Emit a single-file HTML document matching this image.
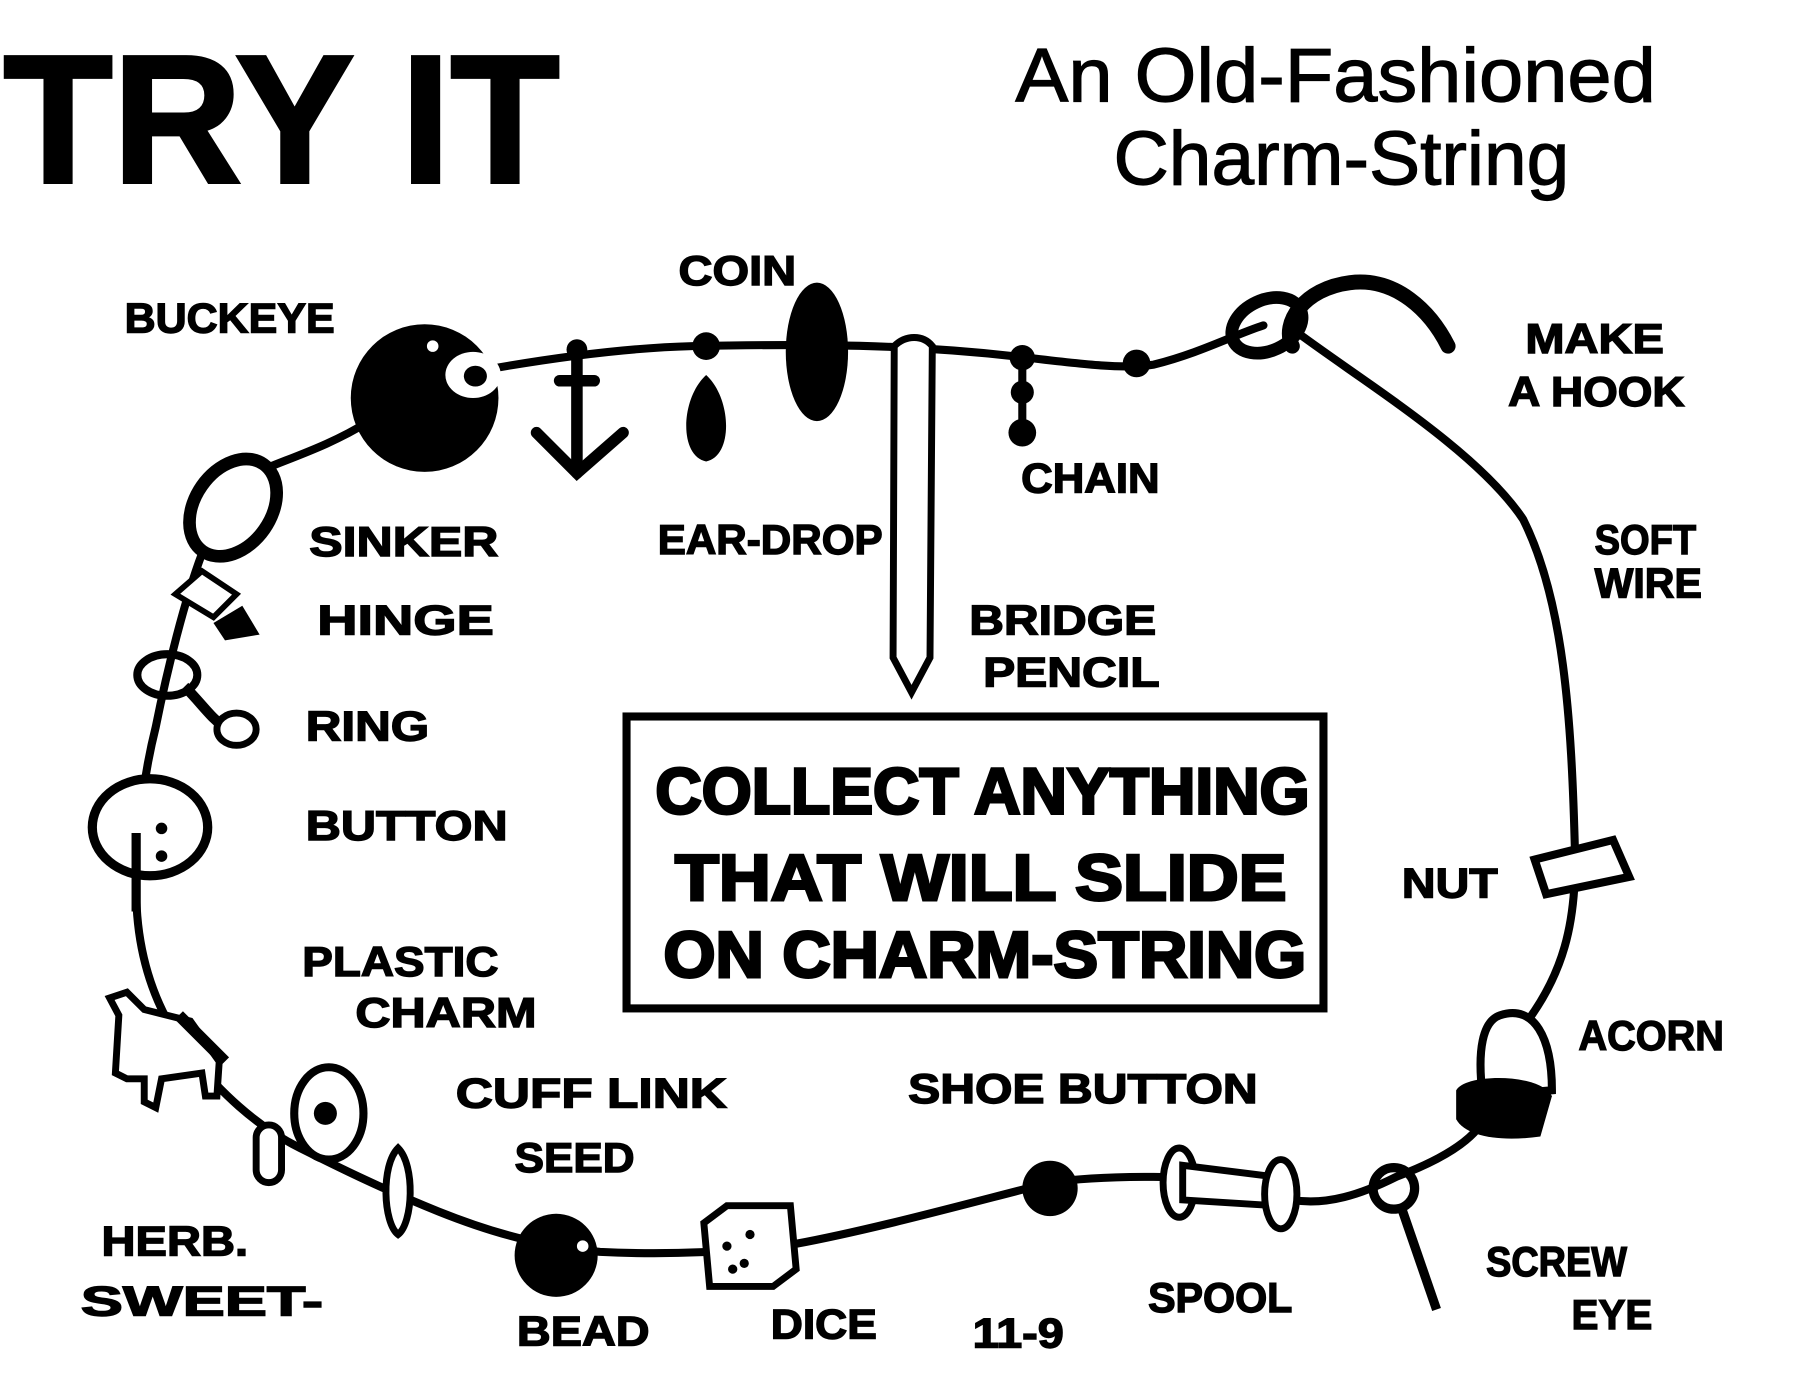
<!DOCTYPE html>
<html><head><meta charset="utf-8"><style>
html,body{margin:0;padding:0;background:#fff;}
svg{display:block;}
text{font-family:"Liberation Sans",sans-serif;font-weight:bold;fill:#000;}
</style></head><body>
<svg width="1800" height="1373" viewBox="0 0 1560 1190" preserveAspectRatio="none" xmlns="http://www.w3.org/2000/svg">
<rect width="1560" height="1190" fill="#fff"/>
<!-- Titles -->
<text x="3" y="158" font-size="158" textLength="482" lengthAdjust="spacingAndGlyphs" stroke="#000" stroke-width="3">TRY IT</text>
<text x="880" y="88" font-size="66" style="font-weight:normal" textLength="555" lengthAdjust="spacingAndGlyphs" stroke="#000" stroke-width="1">An Old-Fashioned</text>
<text x="965" y="160" font-size="66" style="font-weight:normal" textLength="395" lengthAdjust="spacingAndGlyphs" stroke="#000" stroke-width="1">Charm-String</text>

<!-- string / wire -->
<g fill="none" stroke="#000" stroke-linecap="round" stroke-linejoin="round">
<path d="M370,330 C430,318 520,302 600,300 C700,298 790,298 890,310 C940,316 975,320 1000,316 C1040,306 1070,290 1095,282" stroke-width="7"/>
<path d="M1120,285 C1180,330 1280,390 1320,450 C1355,520 1362,620 1365,740 C1366,800 1355,845 1320,890" stroke-width="7"/>
<path d="M1290,960 C1285,985 1250,1005 1210,1020 C1180,1035 1150,1045 1120,1040 C1080,1030 1040,1020 1000,1020 C960,1020 930,1022 910,1025 C850,1040 760,1065 690,1078 C640,1085 580,1088 520,1085 C470,1080 430,1070 380,1050 C330,1030 290,1010 260,995 C220,975 190,945 165,915 C130,870 118,820 118,770 C118,720 125,670 135,630 C145,580 160,520 175,480 C185,455 195,430 210,415 C240,400 280,390 320,365" stroke-width="7"/>
<!-- hook -->
<ellipse cx="1098" cy="282" rx="32" ry="22" stroke-width="11" transform="rotate(-25 1098 282)"/>
<path d="M1120,300 C1110,280 1130,250 1170,245 C1210,240 1240,270 1255,300" stroke-width="13"/>
</g>

<!-- Buckeye -->
<circle cx="368" cy="345" r="64" fill="#000"/>
<ellipse cx="410" cy="325" rx="24" ry="20" fill="#fff"/>
<ellipse cx="412" cy="326" rx="10" ry="9" fill="#000"/>
<circle cx="375" cy="300" r="5" fill="#fff"/>
<!-- Anchor -->
<g stroke="#000" stroke-width="10" fill="none" stroke-linecap="round">
<line x1="500" y1="300" x2="500" y2="410"/>
<path d="M465,375 L500,410 L540,375"/>
<line x1="485" y1="330" x2="515" y2="330"/>
</g>
<circle cx="500" cy="303" r="9" fill="#000"/>
<!-- Ear-drop -->
<circle cx="612" cy="300" r="12" fill="#000"/>
<path d="M612,312 L612,325 C590,345 588,395 612,400 C636,395 634,345 612,325Z" fill="#000"/>
<!-- Coin -->
<ellipse cx="708" cy="305" rx="27" ry="60" fill="#000"/>
<!-- Bridge pencil -->
<path d="M775,300 C785,290 800,290 808,300 L806,570 L790,600 L774,570Z" fill="#fff" stroke="#000" stroke-width="6"/>
<!-- Chain -->
<circle cx="886" cy="310" r="11" fill="#000"/>
<circle cx="886" cy="340" r="10" fill="#000"/>
<circle cx="886" cy="375" r="12" fill="#000"/>
<line x1="886" y1="310" x2="886" y2="375" stroke="#000" stroke-width="7"/>
<circle cx="985" cy="315" r="12" fill="#000"/>
<!-- Sinker -->
<ellipse cx="202" cy="440" rx="33" ry="46" fill="#fff" stroke="#000" stroke-width="11" transform="rotate(35 202 440)"/>
<!-- Hinge -->
<path d="M152,515 L175,495 L205,515 L185,535Z" fill="#fff" stroke="#000" stroke-width="5"/>
<path d="M185,540 L210,525 L225,550 L195,555Z" fill="#000"/>
<!-- Ring -->
<ellipse cx="145" cy="585" rx="26" ry="18" fill="none" stroke="#000" stroke-width="7"/>
<path d="M160,595 C175,610 185,625 195,630" stroke="#000" stroke-width="9" fill="none"/>
<ellipse cx="205" cy="632" rx="17" ry="14" fill="#fff" stroke="#000" stroke-width="6"/>
<!-- Button -->
<ellipse cx="130" cy="717" rx="50" ry="42" fill="#fff" stroke="#000" stroke-width="8"/>
<circle cx="140" cy="718" r="5" fill="#000"/><circle cx="140" cy="742" r="5" fill="#000"/>
<line x1="118" y1="722" x2="118" y2="790" stroke="#000" stroke-width="8"/>
<!-- Plastic charm horse -->
<path d="M100,930 L103,880 L95,865 L110,860 L125,875 L165,885 L190,920 L188,950 L178,950 L175,930 L140,935 L135,960 L125,955 L125,935 L110,935Z" fill="#fff" stroke="#000" stroke-width="6"/>
<path d="M155,880 L195,920" stroke="#000" stroke-width="10"/>
<!-- Herb sweet -->
<rect x="222" y="975" width="22" height="50" rx="11" fill="#fff" stroke="#000" stroke-width="6"/>
<!-- Cuff link -->
<ellipse cx="285" cy="965" rx="30" ry="40" fill="#fff" stroke="#000" stroke-width="7"/>
<circle cx="282" cy="965" r="10" fill="#000"/>
<!-- Seed -->
<path d="M345,995 C360,1010 358,1060 345,1070 C332,1060 330,1010 345,995Z" fill="#fff" stroke="#000" stroke-width="6"/>
<!-- Bead -->
<circle cx="482" cy="1088" r="36" fill="#000"/>
<circle cx="505" cy="1080" r="5" fill="#fff"/>
<!-- Dice -->
<path d="M610,1060 L630,1045 L685,1045 L690,1100 L670,1115 L615,1115Z" fill="#fff" stroke="#000" stroke-width="6"/>
<circle cx="630" cy="1080" r="4"/><circle cx="645" cy="1095" r="4"/><circle cx="650" cy="1070" r="4"/><circle cx="635" cy="1100" r="4"/>
<!-- 11-9 -->
<circle cx="910" cy="1030" r="24" fill="#000"/>
<!-- Spool -->
<ellipse cx="1022" cy="1025" rx="14" ry="30" fill="#fff" stroke="#000" stroke-width="6"/>
<path d="M1025,1010 L1105,1020 L1105,1045 L1025,1040Z" fill="#fff" stroke="#000" stroke-width="6"/>
<ellipse cx="1110" cy="1035" rx="14" ry="30" fill="#fff" stroke="#000" stroke-width="6"/>
<!-- Screw eye -->
<circle cx="1208" cy="1030" r="18" fill="none" stroke="#000" stroke-width="8"/>
<line x1="1215" y1="1048" x2="1245" y2="1135" stroke="#000" stroke-width="8"/>
<!-- Acorn -->
<path d="M1300,880 C1330,870 1345,900 1345,945 L1285,950 C1280,910 1285,885 1300,880Z" fill="#fff" stroke="#000" stroke-width="7"/>
<path d="M1262,945 C1270,930 1335,930 1345,950 L1335,985 C1300,990 1270,985 1262,970Z" fill="#000"/>
<!-- Nut -->
<path d="M1330,745 L1398,728 L1412,760 L1340,775Z" fill="#fff" stroke="#000" stroke-width="7"/>

<!-- Box -->
<rect x="543" y="621" width="604" height="253" fill="#fff" stroke="#000" stroke-width="7"/>
<g stroke="#000" stroke-width="2.5">
<text x="568" y="705" font-size="56" textLength="567" lengthAdjust="spacingAndGlyphs">COLLECT ANYTHING</text>
<text x="585" y="780" font-size="56" textLength="530" lengthAdjust="spacingAndGlyphs">THAT WILL SLIDE</text>
<text x="575" y="847" font-size="56" textLength="557" lengthAdjust="spacingAndGlyphs">ON CHARM-STRING</text>
</g>

<!-- Labels -->
<g font-size="36" stroke="#000" stroke-width="1.2">
<text x="108" y="288" textLength="182" lengthAdjust="spacingAndGlyphs">BUCKEYE</text>
<text x="588" y="247" textLength="102" lengthAdjust="spacingAndGlyphs">COIN</text>
<text x="1322" y="306" textLength="120" lengthAdjust="spacingAndGlyphs">MAKE</text>
<text x="1307" y="352" textLength="153" lengthAdjust="spacingAndGlyphs">A HOOK</text>
<text x="885" y="427" textLength="120" lengthAdjust="spacingAndGlyphs">CHAIN</text>
<text x="268" y="482" textLength="164" lengthAdjust="spacingAndGlyphs">SINKER</text>
<text x="570" y="480" textLength="195" lengthAdjust="spacingAndGlyphs">EAR-DROP</text>
<text x="1382" y="480" textLength="88" lengthAdjust="spacingAndGlyphs">SOFT</text>
<text x="1382" y="518" textLength="93" lengthAdjust="spacingAndGlyphs">WIRE</text>
<text x="275" y="550" textLength="153" lengthAdjust="spacingAndGlyphs">HINGE</text>
<text x="840" y="550" textLength="162" lengthAdjust="spacingAndGlyphs">BRIDGE</text>
<text x="852" y="595" textLength="153" lengthAdjust="spacingAndGlyphs">PENCIL</text>
<text x="265" y="642" textLength="107" lengthAdjust="spacingAndGlyphs">RING</text>
<text x="265" y="728" textLength="175" lengthAdjust="spacingAndGlyphs">BUTTON</text>
<text x="1215" y="778" textLength="83" lengthAdjust="spacingAndGlyphs">NUT</text>
<text x="262" y="846" textLength="170" lengthAdjust="spacingAndGlyphs">PLASTIC</text>
<text x="308" y="890" textLength="157" lengthAdjust="spacingAndGlyphs">CHARM</text>
<text x="1368" y="910" textLength="126" lengthAdjust="spacingAndGlyphs">ACORN</text>
<text x="395" y="960" textLength="235" lengthAdjust="spacingAndGlyphs">CUFF LINK</text>
<text x="787" y="956" textLength="303" lengthAdjust="spacingAndGlyphs">SHOE BUTTON</text>
<text x="446" y="1016" textLength="104" lengthAdjust="spacingAndGlyphs">SEED</text>
<text x="88" y="1088" textLength="127" lengthAdjust="spacingAndGlyphs">HERB.</text>
<text x="70" y="1140" textLength="210" lengthAdjust="spacingAndGlyphs">SWEET-</text>
<text x="1288" y="1106" textLength="122" lengthAdjust="spacingAndGlyphs">SCREW</text>
<text x="1362" y="1152" textLength="70" lengthAdjust="spacingAndGlyphs">EYE</text>
<text x="448" y="1166" textLength="115" lengthAdjust="spacingAndGlyphs">BEAD</text>
<text x="668" y="1160" textLength="92" lengthAdjust="spacingAndGlyphs">DICE</text>
<text x="843" y="1168" textLength="79" lengthAdjust="spacingAndGlyphs">11-9</text>
<text x="995" y="1137" textLength="125" lengthAdjust="spacingAndGlyphs">SPOOL</text>
</g>
</svg>
</body></html>
